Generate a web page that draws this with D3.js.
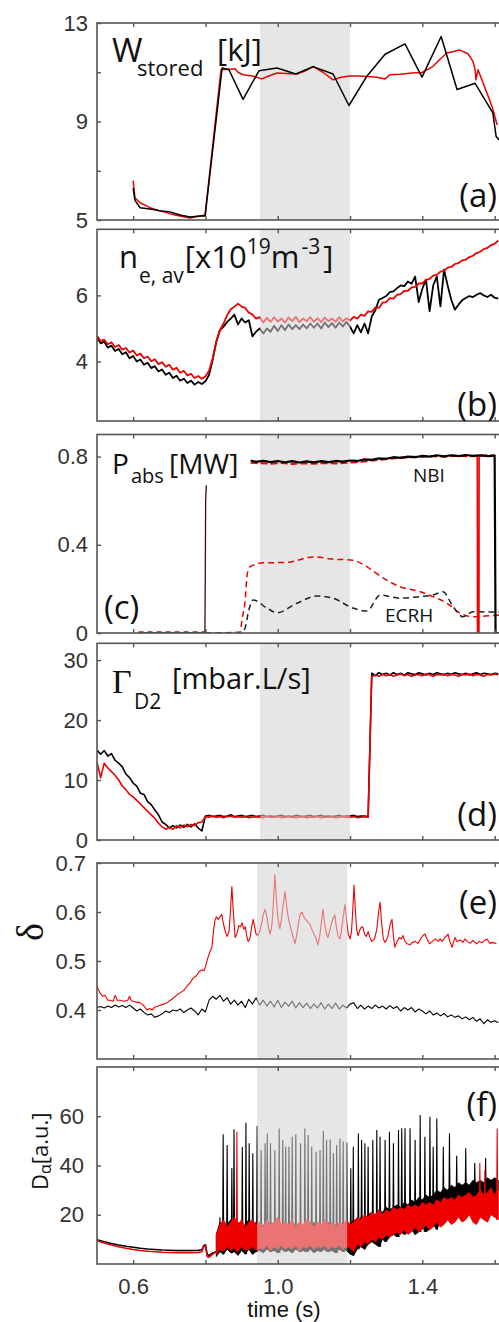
<!DOCTYPE html>
<html>
<head>
<meta charset="utf-8">
<script src="https://cdn.jsdelivr.net/npm/d3@7"></script>
<style>
  html, body { margin: 0; padding: 0; background: #fff; }
  svg { display: block; }
</style>
</head>
<body>
<svg id="chart" width="499" height="1322"></svg>
<script>
// ---------------- shared axis data ----------------
const xTickValues = [0.6, 0.8, 1.0, 1.2, 1.4, 1.6];
const xTickLabels = ["0.6", "", "1.0", "", "1.4", ""];
const shadeUpper = [0.951, 1.200];   // highlighted window, panels a-d
const shadeLower = [0.943, 1.192];   // highlighted window, panels e-f

// ---------------- (a) stored energy [kJ] ----------------
const wStoredBlack = [[0.600,6.3],[0.605,5.8],[0.619,5.5],[0.647,5.45],[0.674,5.38],[0.702,5.33],[0.730,5.2],[0.757,5.12],[0.785,5.16],[0.799,5.16],[0.846,11.17],[0.865,11.1],[0.904,9.9],[0.948,11.06],[0.998,11.17],[1.050,10.93],[1.098,11.23],[1.153,10.93],[1.197,9.65],[1.247,10.85],[1.297,11.73],[1.352,12.15],[1.399,10.8],[1.452,12.45],[1.496,10.3],[1.546,10.55],[1.595,9.35],[1.604,8.4],[1.612,8.25]];
const wStoredRed = [[0.600,6.6],[0.605,5.9],[0.619,5.7],[0.647,5.5],[0.674,5.37],[0.716,5.2],[0.757,5.08],[0.785,5.16],[0.799,5.2],[0.843,11.1],[0.882,11.14],[0.890,11.0],[0.904,10.9],[0.930,10.85],[0.956,10.73],[0.975,10.85],[0.998,10.97],[1.025,10.95],[1.053,10.93],[1.075,11.05],[1.098,11.23],[1.125,11.0],[1.153,10.69],[1.175,10.8],[1.200,10.85],[1.225,10.85],[1.247,10.83],[1.275,10.8],[1.297,10.73],[1.310,10.9],[1.340,10.92],[1.370,10.97],[1.399,10.99],[1.429,11.23],[1.450,11.55],[1.468,11.78],[1.504,11.9],[1.526,11.75],[1.540,11.44],[1.546,11.1],[1.548,10.7],[1.554,11.1],[1.575,10.3],[1.593,9.6],[1.607,8.86]];

// ---------------- (b) line-averaged density, samples every 10 ms from 0.50 s ----------------
const densityStart = 0.50, densityStep = 0.01;
const densityBlack = [
  4.72,4.55,4.60,4.42,4.48,4.32,4.38,4.22,4.28,4.10,
  4.17,4.00,4.06,3.90,3.96,3.80,3.86,3.70,3.76,3.60,
  3.66,3.50,3.57,3.42,3.48,3.35,3.42,3.30,3.38,3.32,
  3.40,3.60,4.05,4.60,4.95,5.05,5.20,5.30,5.42,5.12,
  5.30,5.18,5.25,4.76,4.90,5.00,4.85,5.00,4.90,5.08,
  4.92,5.10,4.95,5.12,4.98,5.10,4.98,5.12,5.00,5.15,
  5.02,5.15,5.00,5.18,5.04,5.16,5.02,5.18,5.06,5.20,
  5.05,4.85,5.10,4.88,5.15,4.85,5.36,5.55,5.87,5.92,
  5.98,6.10,6.12,6.22,6.30,6.28,6.42,6.35,6.57,5.80,
  6.20,6.48,5.52,6.30,6.57,5.67,6.78,6.30,5.87,5.57,
  5.72,5.85,5.92,5.98,5.95,6.02,6.07,6.00,5.95,6.02,
  5.93,5.90];
const densityRed = [
  4.78,4.62,4.66,4.52,4.58,4.44,4.50,4.36,4.41,4.27,
  4.33,4.18,4.24,4.10,4.15,4.01,4.07,3.92,3.98,3.84,
  3.90,3.75,3.81,3.66,3.72,3.58,3.63,3.50,3.56,3.48,
  3.55,3.72,4.10,4.60,4.95,5.15,5.40,5.58,5.66,5.75,
  5.66,5.62,5.48,5.42,5.30,5.34,5.18,5.32,5.20,5.34,
  5.21,5.30,5.18,5.33,5.22,5.35,5.19,5.30,5.22,5.34,
  5.20,5.31,5.19,5.33,5.22,5.30,5.20,5.34,5.21,5.31,
  5.24,5.35,5.30,5.42,5.38,5.52,5.50,5.64,5.62,5.78,
  5.80,5.92,5.90,6.02,6.04,6.14,6.14,6.24,6.26,6.36,
  6.36,6.47,6.50,6.60,6.62,6.72,6.74,6.84,6.86,6.95,
  6.98,7.06,7.08,7.16,7.20,7.28,7.32,7.40,7.44,7.52,
  7.56,7.66];

// ---------------- (c) absorbed heating power [MW] ----------------
const nbiBlackEarly = [[0.615,0],[0.7985,0],[0.7995,0.25],[0.8005,0.6],[0.8025,0.67]];
const nbiBlack = [[0.925,0.782],[0.94,0.776],[0.96,0.781],[0.98,0.775],[1.00,0.780],[1.02,0.774],[1.04,0.779],[1.06,0.773],[1.08,0.778],[1.10,0.774],[1.12,0.779],[1.14,0.775],[1.16,0.780],[1.18,0.777],[1.20,0.782],[1.22,0.780],[1.24,0.787],[1.26,0.785],[1.28,0.792],[1.30,0.790],[1.32,0.797],[1.34,0.794],[1.36,0.800],[1.38,0.797],[1.40,0.803],[1.42,0.800],[1.44,0.806],[1.46,0.801],[1.48,0.806],[1.50,0.802],[1.52,0.807],[1.54,0.803],[1.56,0.806],[1.58,0.802],[1.600,0.804],[1.6025,0],[1.62,0]];
const nbiRed = [[0.925,0.772],[0.95,0.770],[0.98,0.768],[1.01,0.771],[1.04,0.767],[1.07,0.770],[1.10,0.768],[1.13,0.771],[1.16,0.769],[1.19,0.772],[1.22,0.775],[1.25,0.780],[1.28,0.786],[1.31,0.790],[1.34,0.795],[1.37,0.797],[1.40,0.800],[1.43,0.802],[1.46,0.800],[1.49,0.803],[1.52,0.802],[1.552,0.803],[1.557,0.803],[1.58,0.805],[1.600,0.804]];
const nbiRedDip = [[1.552,0.803],[1.5525,0],[1.5565,0],[1.557,0.803]];
const nbiRedEarly = [[0.615,0.004],[0.798,0.004]];
const ecrhRed = [[0.80,0.0],[0.896,0.004],[0.901,0.06],[0.909,0.135],[0.916,0.27],[0.923,0.30],[0.959,0.318],[1.026,0.32],[1.098,0.345],[1.153,0.335],[1.208,0.33],[1.247,0.30],[1.291,0.25],[1.338,0.21],[1.394,0.187],[1.429,0.165],[1.468,0.135],[1.504,0.09],[1.540,0.074],[1.607,0.08],[1.62,0.08]];
const ecrhBlack = [[0.80,0.0],[0.896,0.0],[0.909,0.02],[0.920,0.104],[0.932,0.15],[0.970,0.113],[0.998,0.092],[1.053,0.135],[1.109,0.168],[1.153,0.158],[1.208,0.113],[1.247,0.10],[1.283,0.172],[1.338,0.158],[1.394,0.165],[1.429,0.172],[1.457,0.187],[1.485,0.12],[1.512,0.074],[1.540,0.096],[1.607,0.095],[1.62,0.095]];

// ---------------- (d) D2 fuelling rate, samples every 10 ms from 0.50 s ----------------
const fuelStart = 0.50, fuelStep = 0.01;
const fuelBlack = [
  15.0,14.3,14.9,14.0,14.4,13.3,12.8,12.2,11.0,10.4,
  9.5,9.0,7.8,7.6,6.4,5.9,5.0,4.2,3.0,2.6,
  2.0,2.4,2.0,2.5,2.1,2.6,2.2,2.7,2.0,1.5,
  4.0,4.1,3.9,4.0,4.1,3.9,4.0,4.2,3.9,4.0,
  4.1,3.9,4.0,4.1,3.9,4.0,4.1,3.9,4.0,3.9,
  4.0,4.1,3.9,4.0,3.9,4.1,4.0,3.9,4.0,4.1,
  3.9,4.0,4.1,3.9,4.0,3.9,4.0,4.1,3.9,4.0,
  4.0,4.1,3.9,4.0,4.0,3.9,27.8,27.4,27.9,27.6,
  27.8,27.5,27.9,27.6,27.8,27.5,27.9,27.7,27.6,27.9,
  27.7,27.5,27.8,27.6,27.9,27.7,27.5,27.8,27.6,27.9,
  27.7,27.6,27.8,27.5,27.7,27.9,27.6,27.8,27.7,27.6,
  27.8,27.7];
const fuelRed = [
  13.0,10.4,12.8,12.0,11.4,10.8,10.0,9.0,8.4,7.6,
  7.2,6.6,6.0,5.4,4.8,4.2,3.6,2.8,2.2,1.8,
  2.1,1.8,2.4,2.0,2.5,2.2,2.6,2.4,2.9,3.0,
  3.9,3.8,4.0,3.8,3.9,3.7,3.9,4.0,3.8,3.9,
  3.8,3.9,3.7,3.8,3.9,3.8,3.7,3.9,3.8,3.8,
  3.9,3.7,3.8,3.9,3.8,3.7,3.8,3.9,3.7,3.8,
  3.8,3.9,3.7,3.8,3.8,3.9,3.7,3.8,3.9,3.8,
  3.8,3.9,3.7,3.8,3.9,3.8,27.2,27.5,27.3,27.6,
  27.4,27.6,27.3,27.5,27.7,27.4,27.6,27.3,27.5,27.6,
  27.4,27.7,27.5,27.3,27.6,27.5,27.7,27.4,27.6,27.5,
  27.3,27.6,27.5,27.7,27.4,27.6,27.5,27.3,27.6,27.5,
  27.7,27.5];

// ---------------- (e) triangularity ----------------
const deltaRed = [[0.497,0.452],[0.502,0.445],[0.508,0.435],[0.515,0.428],[0.522,0.43],[0.53,0.42],[0.536,0.42],[0.545,0.418],[0.55,0.43],[0.556,0.42],[0.564,0.42],[0.575,0.418],[0.585,0.42],[0.59,0.428],[0.595,0.419],[0.60,0.418],[0.61,0.416],[0.619,0.415],[0.628,0.41],[0.638,0.40],[0.645,0.403],[0.652,0.40],[0.66,0.406],[0.666,0.407],[0.675,0.41],[0.685,0.412],[0.694,0.415],[0.703,0.42],[0.712,0.425],[0.72,0.43],[0.73,0.435],[0.74,0.44],[0.748,0.448],[0.757,0.455],[0.766,0.465],[0.775,0.47],[0.782,0.478],[0.79,0.482],[0.796,0.48],[0.80,0.488],[0.806,0.505],[0.813,0.52],[0.818,0.528],[0.822,0.56],[0.826,0.582],[0.83,0.59],[0.835,0.585],[0.84,0.59],[0.845,0.595],[0.85,0.575],[0.855,0.56],[0.86,0.55],[0.865,0.56],[0.869,0.6],[0.873,0.652],[0.877,0.6],[0.882,0.548],[0.887,0.555],[0.892,0.572],[0.897,0.57],[0.901,0.578],[0.906,0.565],[0.91,0.57],[0.914,0.552],[0.918,0.54],[0.923,0.545],[0.928,0.57],[0.932,0.585],[0.936,0.57],[0.94,0.555],[0.945,0.552],[0.95,0.56],[0.955,0.575],[0.96,0.595],[0.965,0.605],[0.97,0.59],[0.975,0.565],[0.979,0.555],[0.984,0.575],[0.988,0.62],[0.992,0.676],[0.996,0.63],[1.0,0.59],[1.003,0.575],[1.006,0.566],[1.01,0.585],[1.015,0.615],[1.02,0.641],[1.025,0.61],[1.03,0.585],[1.034,0.573],[1.04,0.555],[1.044,0.545],[1.048,0.536],[1.053,0.555],[1.058,0.58],[1.062,0.595],[1.067,0.6],[1.072,0.59],[1.077,0.585],[1.083,0.58],[1.089,0.575],[1.094,0.565],[1.1,0.555],[1.105,0.548],[1.111,0.533],[1.116,0.55],[1.12,0.575],[1.125,0.606],[1.13,0.575],[1.135,0.555],[1.139,0.548],[1.145,0.565],[1.15,0.58],[1.155,0.59],[1.158,0.594],[1.162,0.57],[1.167,0.55],[1.172,0.545],[1.176,0.56],[1.18,0.585],[1.186,0.615],[1.19,0.585],[1.195,0.555],[1.2,0.545],[1.204,0.56],[1.208,0.61],[1.211,0.655],[1.215,0.6],[1.218,0.565],[1.222,0.552],[1.228,0.565],[1.232,0.57],[1.236,0.568],[1.24,0.555],[1.245,0.55],[1.25,0.56],[1.255,0.548],[1.26,0.54],[1.268,0.545],[1.274,0.565],[1.279,0.6],[1.283,0.62],[1.287,0.58],[1.292,0.545],[1.297,0.538],[1.302,0.545],[1.306,0.555],[1.311,0.575],[1.316,0.585],[1.32,0.55],[1.324,0.528],[1.33,0.54],[1.336,0.548],[1.342,0.545],[1.346,0.552],[1.352,0.54],[1.358,0.535],[1.366,0.533],[1.372,0.538],[1.38,0.54],[1.388,0.536],[1.395,0.545],[1.402,0.552],[1.407,0.555],[1.413,0.545],[1.42,0.535],[1.428,0.54],[1.436,0.545],[1.444,0.54],[1.449,0.545],[1.455,0.54],[1.462,0.548],[1.468,0.552],[1.471,0.555],[1.476,0.54],[1.482,0.528],[1.487,0.54],[1.49,0.548],[1.496,0.54],[1.505,0.543],[1.512,0.538],[1.518,0.545],[1.524,0.54],[1.532,0.536],[1.54,0.542],[1.55,0.535],[1.558,0.54],[1.565,0.537],[1.572,0.542],[1.579,0.545],[1.587,0.536],[1.595,0.538],[1.605,0.535]];
const deltaStart = 0.50, deltaStep = 0.01;
const deltaBlack = [
  0.405,0.407,0.404,0.408,0.405,0.410,0.406,0.409,0.405,0.410,
  0.404,0.398,0.402,0.395,0.390,0.392,0.385,0.388,0.392,0.398,
  0.395,0.400,0.398,0.402,0.395,0.400,0.404,0.398,0.390,0.402,
  0.396,0.420,0.428,0.422,0.430,0.418,0.425,0.412,0.420,0.410,
  0.418,0.405,0.422,0.412,0.425,0.410,0.420,0.408,0.418,0.406,
  0.420,0.405,0.416,0.408,0.418,0.404,0.415,0.405,0.414,0.403,
  0.412,0.404,0.415,0.402,0.412,0.403,0.414,0.402,0.410,0.404,
  0.412,0.415,0.403,0.410,0.402,0.408,0.403,0.410,0.404,0.408,
  0.402,0.409,0.403,0.407,0.398,0.405,0.400,0.405,0.396,0.402,
  0.398,0.392,0.398,0.390,0.394,0.388,0.393,0.386,0.390,0.385,
  0.388,0.382,0.386,0.380,0.385,0.377,0.382,0.372,0.380,0.375,
  0.378,0.374];

// ---------------- (f) D-alpha [a.u.] ----------------
const dalphaBlackEarly = [[0.50,9.8],[0.52,9.0],[0.54,8.3],[0.56,7.7],[0.58,7.2],[0.60,6.8],[0.62,6.4],[0.64,6.1],[0.66,5.9],[0.68,5.7],[0.70,5.6],[0.72,5.5],[0.74,5.5],[0.76,5.5],[0.78,5.6],[0.79,5.8],[0.795,7.4],[0.80,7.8],[0.805,3.8],[0.81,3.5],[0.82,4.5],[0.83,5.0]];
const dalphaRedEarly = [[0.50,9.5],[0.52,8.5],[0.54,7.7],[0.56,7.0],[0.58,6.4],[0.60,5.9],[0.62,5.5],[0.64,5.2],[0.66,5.0],[0.68,4.8],[0.70,4.7],[0.72,4.6],[0.74,4.6],[0.76,4.6],[0.78,4.7],[0.79,5.0],[0.795,7.0],[0.80,7.4],[0.805,3.0],[0.81,2.8],[0.82,4.0],[0.83,5.0]];
// inter-ELM band envelopes, every 10 ms from 0.83 s
const bandStart = 0.83, bandStep = 0.01;
const dalphaBlackLow = [
  3,5,4,6,4.5,5,3.5,5.5,4,6,
  4,5,5.5,4.5,6,5,5.5,4.5,6,5,
  5.5,4.5,6,5,5.5,5,6,4.5,5.5,5,
  6,5,5.5,4.5,6,5,5.5,4,3.5,6,
  7,6,8,9,8,7,10,9,11,12,
  11,13,12,13,14,12,13,15,13,14,
  16,14,17,19,22,21,24,23,25,26,
  25,27,26,28,27,28,29,28,30];
const dalphaBlackHigh = [
  12,17,14,16,18,15,17,14,16,18,
  15,17,14,16,15,17,14,16,15,17,
  14,16,15,17,14,16,15,17,14,16,
  15,17,14,16,15,17,14,16,18,17,
  19,18,20,21,20,22,21,23,22,23,
  24,23,25,24,26,25,27,26,28,27,
  28,30,29,31,30,32,31,33,32,33,
  32,34,33,34,33,35,34,35,34];
const dalphaRedLow = [
  4,6,5,7,5.5,6.5,5,7,5.5,6,
  7,5.5,6.5,6,7.5,5.5,7,6,7.5,6,
  7,6,7.5,5.5,7,6.5,7.5,6,7,6.5,
  7.5,6,7,6.5,7.5,6,7,6.5,5,8,
  7,9,8,10,9,11,10,12,11,12,
  13,12,14,12,13,15,13,14,16,14,
  15,17,15,16,18,16,17,19,17,18,
  20,17,16,19,18,17,20,19,18];
const dalphaRedHigh = [
  12,16,18,15,17,19,16,18,15,17,
  18,16,17,15,18,16,17,19,16,17,
  16,18,15,17,16,18,17,15,17,16,
  18,16,17,15,17,16,18,16,17,19,
  18,20,19,21,20,22,20,22,21,23,
  22,23,22,24,23,24,23,25,24,25,
  24,26,25,27,26,27,26,28,27,28,
  29,27,28,30,28,29,31,28,30];
// ELM peaks: [time, peak]
const elmBlack = [[0.840,19],[0.849,52.7],[0.860,48.3],[0.873,39],[0.879,54.7],[0.902,47.5],[0.912,57.4],[0.921,49],[0.931,45],[0.943,56],[0.954,46.3],[0.965,49],[0.971,53],[0.980,49],[0.992,46.3],[1.004,55],[1.014,50.4],[1.022,47.6],[1.031,47.6],[1.040,51.7],[1.050,52.7],[1.063,49],[1.075,55],[1.084,52.4],[1.094,47.6],[1.106,45.6],[1.117,46.3],[1.126,54],[1.135,50.4],[1.145,50.6],[1.154,45],[1.163,48.3],[1.172,51],[1.181,49.7],[1.191,49.3],[1.202,38.9],[1.209,47.6],[1.223,53],[1.232,50.4],[1.241,49],[1.250,47.6],[1.263,50.4],[1.274,54.4],[1.283,51.7],[1.297,50.4],[1.309,53.7],[1.320,49],[1.334,54.4],[1.343,55.1],[1.352,55.1],[1.366,55.1],[1.380,50.4],[1.394,60.5],[1.407,51.7],[1.421,59.8],[1.430,47.6],[1.440,59.1],[1.458,47.6],[1.475,53],[1.495,44],[1.520,47],[1.545,41],[1.575,43]];
const elmRed = [[0.887,53.7],[1.559,41],[1.573,38],[1.607,55]];

// ---------------- layout ----------------
const svg = d3.select("#chart");
const x = d3.scaleLinear().domain([0.5, 1.7]).range([97, 530.8]);
const RED = "#ee0000", BLACK = "#000", FRAME = "#555", SHADE = "#e6e6e6";
const tickFont = "'Liberation Sans', Arial, Helvetica, sans-serif";
const labelFont = "'Open Sans', 'Noto Sans', sans-serif";
const serifFont = "'Liberation Serif', 'DejaVu Serif', serif";

const uniform = (t0, dt, values) => values.map((v, i) => [t0 + i * dt, v]);

function makePanel(cfg) {
  const y = d3.scaleLinear().domain(cfg.domain).range([cfg.bottom, cfg.top]);
  const g = svg.append("g");
  const clipId = "clip-" + cfg.id;
  svg.append("clipPath").attr("id", clipId)
    .append("rect").attr("x", x(0.5)).attr("y", cfg.top)
    .attr("width", x(1.7) - x(0.5)).attr("height", cfg.bottom - cfg.top);
  const under = g.append("g").attr("clip-path", `url(#${clipId})`);
  under.append("rect")
    .attr("x", x(cfg.shade[0])).attr("width", x(cfg.shade[1]) - x(cfg.shade[0]))
    .attr("y", cfg.top).attr("height", cfg.bottom - cfg.top).attr("fill", SHADE);
  const plot = g.append("g").attr("clip-path", `url(#${clipId})`);
  return { y, g, plot, cfg, clipId };
}

function finishPanel(p) {
  const { y, g, cfg } = p;
  if (cfg.overlay) {
    g.append("g").attr("clip-path", `url(#${p.clipId})`).append("rect")
      .attr("x", x(cfg.shade[0])).attr("width", x(cfg.shade[1]) - x(cfg.shade[0]))
      .attr("y", cfg.top).attr("height", cfg.bottom - cfg.top)
      .attr("fill", SHADE).attr("opacity", 0.5);
  }
  // y axis (ticks inside the frame)
  const yAxis = d3.axisLeft(y).tickValues(cfg.ticks).tickSize(-4).tickPadding(10)
    .tickFormat(d => cfg.tickLabels.includes(d) ? cfg.format(d) : "");
  const ya = g.append("g").attr("transform", `translate(${x(0.5)},0)`).call(yAxis);
  ya.select(".domain").remove();
  ya.selectAll(".tick line").attr("stroke", FRAME).attr("stroke-width", 1.4);
  ya.selectAll(".tick text").attr("font-family", tickFont).attr("font-size", 22)
    .attr("fill", "#333").attr("x", -(x(0.5) - cfg.labelRight));
  // x ticks top and bottom
  const xb = d3.axisBottom(x).tickValues(xTickValues).tickSize(-4)
    .tickFormat((d, i) => cfg.showX ? xTickLabels[i] : "").tickPadding(14);
  const xbg = g.append("g").attr("transform", `translate(0,${cfg.bottom})`).call(xb);
  xbg.select(".domain").remove();
  xbg.selectAll(".tick line").attr("stroke", FRAME).attr("stroke-width", 1.4);
  xbg.selectAll(".tick text").attr("font-family", tickFont).attr("font-size", 22).attr("fill", "#333");
  const xt = d3.axisTop(x).tickValues(xTickValues).tickSize(-4).tickFormat("");
  const xtg = g.append("g").attr("transform", `translate(0,${cfg.top})`).call(xt);
  xtg.select(".domain").remove();
  xtg.selectAll(".tick line").attr("stroke", FRAME).attr("stroke-width", 1.4);
  // frame
  g.append("rect").attr("x", x(0.5)).attr("y", cfg.top)
    .attr("width", x(1.7) - x(0.5)).attr("height", cfg.bottom - cfg.top)
    .attr("fill", "none").attr("stroke", FRAME).attr("stroke-width", 1.6);
}

function drawLine(p, data, color, width, opts = {}) {
  const line = d3.line().x(d => x(d[0])).y(d => p.y(d[1]));
  if (opts.curve) line.curve(opts.curve);
  const path = p.plot.append("path").datum(data)
    .attr("d", line).attr("fill", "none").attr("stroke", color)
    .attr("stroke-width", width).attr("stroke-linejoin", "round");
  if (opts.dash) path.attr("stroke-dasharray", opts.dash);
  return path;
}

function text(parent, str, xPos, yPos, size, opts = {}) {
  return parent.append("text").attr("x", xPos).attr("y", yPos)
    .attr("font-family", opts.font || labelFont).attr("font-size", size)
    .attr("fill", opts.fill || "#111").attr("text-anchor", opts.anchor || "start")
    .text(str);
}

// ---------------- panel (a) ----------------
const pa = makePanel({ id: "a", top: 23, bottom: 220, domain: [5, 13], ticks: [5, 7, 9, 11, 13],
  tickLabels: [5, 9, 13], format: d3.format("d"), labelRight: 88, shade: shadeUpper, overlay: false });
drawLine(pa, wStoredRed, RED, 1.5);
drawLine(pa, wStoredBlack, BLACK, 1.5);
finishPanel(pa);
text(svg, "W", 112, 62, 33);
text(svg, "stored", 137, 76, 22);
text(svg, "[kJ]", 217, 61, 31);
text(svg, "(a)", 497, 207, 33, { anchor: "end" });

// ---------------- panel (b) ----------------
const pb = makePanel({ id: "b", top: 229.3, bottom: 421, domain: [2.2, 8.0], ticks: [4, 6],
  tickLabels: [4, 6], format: d3.format("d"), labelRight: 88, shade: shadeUpper, overlay: true });
drawLine(pb, uniform(densityStart, densityStep, densityBlack), BLACK, 1.8);
drawLine(pb, uniform(densityStart, densityStep, densityRed), RED, 1.8);
finishPanel(pb);
svg.append("text").attr("x", 119).attr("y", 268)
  .attr("font-family", labelFont).attr("font-size", 31).attr("fill", "#111")
  .call(t => {
    t.append("tspan").text("n");
    t.append("tspan").attr("font-size", 21).attr("dy", 15).attr("dx", 1).text("e, av");
    t.append("tspan").attr("dy", -15).attr("dx", 1).text("[x10");
    t.append("tspan").attr("font-size", 21).attr("dy", -14).text("19");
    t.append("tspan").attr("dy", 14).text("m");
    t.append("tspan").attr("font-size", 21).attr("dy", -14).attr("dx", 2).text("-3");
    t.append("tspan").attr("dy", 14).attr("dx", 3).text("]");
  });
text(svg, "(b)", 497, 416, 33, { anchor: "end" });

// ---------------- panel (c) ----------------
const pc = makePanel({ id: "c", top: 434.5, bottom: 633, domain: [0, 0.9], ticks: [0, 0.4, 0.8],
  tickLabels: [0, 0.4, 0.8], format: d => d === 0 ? "0" : d3.format(".1f")(d), labelRight: 88,
  shade: shadeUpper, overlay: false });
drawLine(pc, nbiRedEarly, RED, 1.5, { dash: "5,4" });
drawLine(pc, nbiBlackEarly, "#301010", 1.3);
drawLine(pc, ecrhRed, RED, 1.5, { dash: "6,4", curve: d3.curveMonotoneX });
drawLine(pc, ecrhBlack, "#222", 1.5, { dash: "6,4", curve: d3.curveMonotoneX });
drawLine(pc, nbiRed, RED, 2.2, { dash: "7,3" });
drawLine(pc, nbiRedDip, RED, 1.6);
drawLine(pc, nbiBlack, BLACK, 2.2);
finishPanel(pc);
text(svg, "P", 112, 474, 28);
text(svg, "abs", 131, 483, 20);
text(svg, "[MW]", 169, 474, 28);
text(svg, "NBI", 413, 482, 19);
text(svg, "ECRH", 385, 622, 19);
text(svg, "(c)", 104, 619, 33);

// ---------------- panel (d) ----------------
const pd = makePanel({ id: "d", top: 643.3, bottom: 840, domain: [0, 32.8], ticks: [0, 10, 20, 30],
  tickLabels: [0, 10, 20, 30], format: d3.format("d"), labelRight: 88, shade: shadeUpper, overlay: true });
drawLine(pd, uniform(fuelStart, fuelStep, fuelBlack), BLACK, 1.6);
drawLine(pd, uniform(fuelStart, fuelStep, fuelRed), RED, 1.6);
finishPanel(pd);
text(svg, "Γ", 112, 693, 34, { font: serifFont });
text(svg, "D2", 134, 709, 21);
text(svg, "[mbar.L/s]", 172, 689, 29);
text(svg, "(d)", 497, 826, 33, { anchor: "end" });

// ---------------- panel (e) ----------------
const pe = makePanel({ id: "e", top: 863, bottom: 1059, domain: [0.3, 0.7], ticks: [0.4, 0.5, 0.6, 0.7],
  tickLabels: [0.4, 0.5, 0.6, 0.7], format: d3.format(".1f"), labelRight: 86, shade: shadeLower, overlay: true });
drawLine(pe, uniform(deltaStart, deltaStep, deltaBlack), BLACK, 1.1);
drawLine(pe, deltaRed, RED, 1.1);
finishPanel(pe);
svg.append("text").attr("transform", "translate(43,932) rotate(-90)")
  .attr("font-family", serifFont).attr("font-size", 38).attr("text-anchor", "middle")
  .attr("fill", "#111").text("δ");
text(svg, "(e)", 497, 914, 33, { anchor: "end" });

// ---------------- panel (f) ----------------
const pf = makePanel({ id: "f", top: 1067, bottom: 1264, domain: [0, 80], ticks: [20, 40, 60],
  tickLabels: [20, 40, 60], format: d3.format("d"), labelRight: 84, shade: shadeLower, overlay: true, showX: true });
const band = (low, high) => low.map((v, i) => [bandStart + i * bandStep, v, high[i]]);
const bandArea = d3.area().x(d => x(d[0])).y0(d => pf.y(d[1])).y1(d => pf.y(d[2]));
function drawSpikes(list, low, color) {
  const path = d3.path();
  list.forEach(([t, peak]) => {
    const i = Math.max(0, Math.min(low.length - 1, Math.round((t - bandStart) / bandStep)));
    const base = low[i];
    path.moveTo(x(t) - 0.6, pf.y(base));
    path.lineTo(x(t), pf.y(peak));
    path.lineTo(x(t) + 0.6, pf.y(base));
  });
  pf.plot.append("path").attr("d", path.toString()).attr("fill", "none")
    .attr("stroke", color).attr("stroke-width", 1.1);
}
drawLine(pf, dalphaBlackEarly, BLACK, 1.6);
drawLine(pf, dalphaRedEarly, RED, 1.6);
pf.plot.append("path").datum(band(dalphaBlackLow, dalphaBlackHigh)).attr("d", bandArea)
  .attr("fill", BLACK).attr("stroke", BLACK).attr("stroke-width", 0.8);
drawSpikes(elmBlack, dalphaBlackLow, BLACK);
pf.plot.append("path").datum(band(dalphaRedLow, dalphaRedHigh)).attr("d", bandArea)
  .attr("fill", RED).attr("stroke", RED).attr("stroke-width", 0.8);
drawSpikes(elmRed, dalphaRedLow, RED);
finishPanel(pf);
svg.append("text").attr("transform", "translate(48,1190) rotate(-90)")
  .attr("font-family", labelFont).attr("font-size", 22).attr("fill", "#111")
  .call(t => {
    t.append("tspan").text("D");
    t.append("tspan").attr("font-size", 16).attr("dy", 3).text("α");
    t.append("tspan").attr("dy", -3).text("[a.u.]");
  });
text(svg, "(f)", 497, 1116, 33, { anchor: "end" });
text(svg, "time (s)", 284, 1317, 22, { font: tickFont, anchor: "middle" });
</script>
</body>
</html>
